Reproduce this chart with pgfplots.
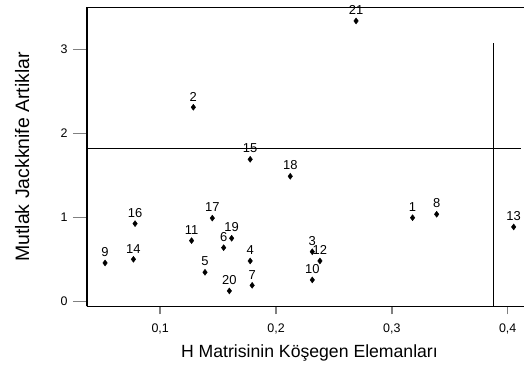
\documentclass[border=0pt]{standalone}
\usepackage{fontspec}
\setmainfont{Liberation Sans}
\usepackage{pgfplots}
\pgfplotsset{compat=1.18}
\begin{document}
\begin{tikzpicture}
\begin{axis}[
  at={(0,0)}, anchor=south west,
  scale only axis, width=437bp, height=299bp,
  xmin=0.0368, xmax=0.4141, ymin=-0.06, ymax=3.5,
  axis lines=left, axis line style={-, line width=1.5bp},
  tick align=outside, major tick length=8bp,
  xtick={0.1,0.2,0.3,0.4}, xticklabels={{0,1},{0,2},{0,3},{0,4}},
  ytick=\empty,
  x tick style={line width=1.5bp},
  tick label style={font=\fontsize{12.5}{14}\selectfont},
  xticklabel style={yshift=-6bp},
  xlabel={H Matrisinin Köşegen Elemanları},
  ylabel={Mutlak Jackknife Artiklar},
  xlabel style={font=\fontsize{17.7}{20}\selectfont, at={(axis description cs:0.509,-0.1696)}, anchor=base},
  ylabel style={font=\fontsize{19.5}{22}\selectfont, at={(axis description cs:-0.1327,0.5)}, anchor=base},
  clip=false,
  nodes near coords,
  point meta=explicit symbolic,
  every node near coord/.append style={font=\fontsize{13}{15}\selectfont, anchor=south, inner sep=0pt, yshift=6bp},
]
\addplot[only marks, mark=diamond*, mark size=3bp, black] table[meta=lab] {
x y lab
0.3179 0.995 1
0.1286 2.31 2
0.2313 0.59 3
0.1777 0.48 4
0.1387 0.345 5
0.1548 0.638 6
0.1794 0.19 7
0.3387 1.036 8
0.0524 0.456 9
0.2313 0.254 10
0.1271 0.722 11
0.2379 0.48 12
0.4052 0.885 13
0.0769 0.50 14
0.1777 1.69 15
0.0783 0.924 16
0.1450 0.99 17
0.2123 1.488 18
0.1617 0.75 19
0.1597 0.123 20
0.2691 3.337 21
};
\addplot[black, line width=1.5bp, mark=none, nodes near coords={}] coordinates {(0.0368,1.82) (0.4112,1.82)};
\addplot[black, line width=1.5bp, mark=none, nodes near coords={}] coordinates {(0.3879,-0.06) (0.3879,3.08)};
\draw[line width=1.5bp] (rel axis cs:0,1) -- (rel axis cs:1,1);
\end{axis}
\begin{axis}[
  at={(0,0)}, anchor=south west,
  scale only axis, width=437bp, height=299bp,
  xmin=0.0368, xmax=0.4141, ymin=-0.06, ymax=3.5,
  axis lines=left, axis line style={-, line width=1.5bp},
  tick align=outside, major tick length=14bp,
  xtick=\empty,
  ytick={0,1,2,3}, yticklabels={0,1,2,3},
  y tick style={line width=1.5bp},
  tick label style={font=\fontsize{12.5}{14}\selectfont},
  yticklabel style={xshift=-2bp},
]
\end{axis}
\pgfresetboundingbox
\path (-87bp,-62bp) rectangle (437bp,306.3bp);
\end{tikzpicture}
\end{document}
